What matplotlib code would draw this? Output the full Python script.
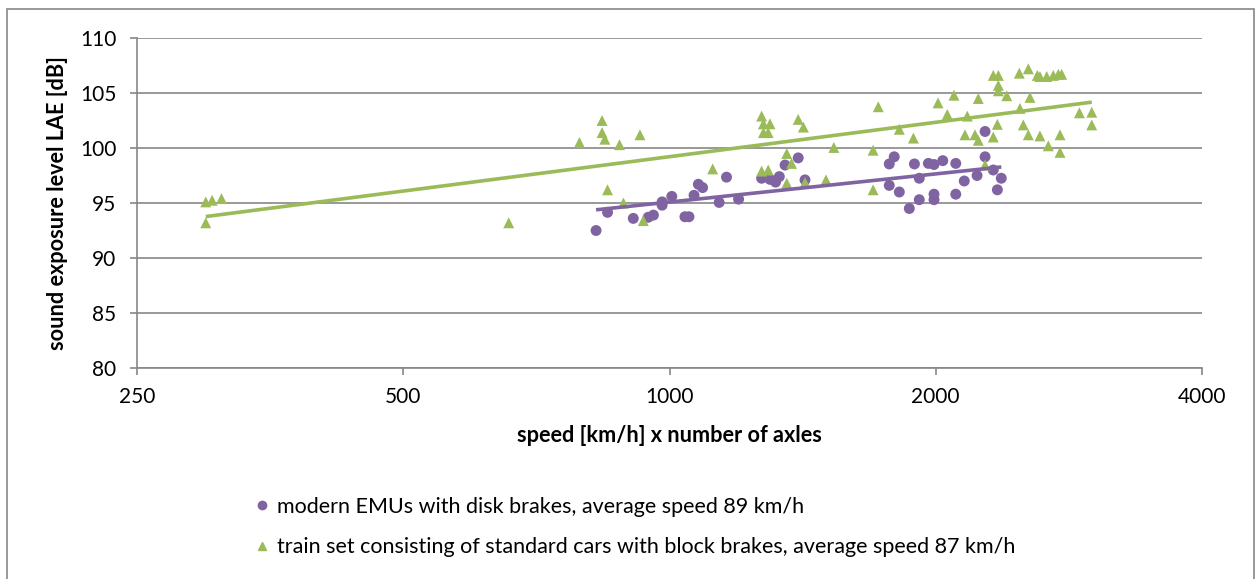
import numpy as np
import matplotlib
matplotlib.use('Agg')
import matplotlib.pyplot as plt
from matplotlib.lines import Line2D
from matplotlib.patches import Rectangle

# modern EMUs with disk brakes
emu_x = [826, 851, 910, 946, 959, 981, 981, 1006, 1041, 1052, 1066, 1078, 1090,
         1138, 1160, 1197, 1271, 1299, 1331, 1318, 1351, 1398, 1423,
         1795, 1772, 1892, 1962, 1991, 2037, 2107, 2274, 2274, 1916, 1772, 1819,
         1867, 1916, 1991, 1991, 2107, 2154, 2227, 2323, 2372, 2348]
emu_y = [92.5, 94.15, 93.6, 93.7, 93.9, 94.8, 95.1, 95.6, 93.75, 93.75, 95.7, 96.7, 96.4,
         95.05, 97.35, 95.35, 97.25, 97.15, 97.4, 96.9, 98.45, 99.1, 97.1,
         99.2, 98.55, 98.55, 98.6, 98.5, 98.85, 98.6, 99.2, 101.5, 97.25, 96.6, 96.0,
         94.5, 95.3, 95.8, 95.3, 95.8, 97.0, 97.5, 98.0, 97.25, 96.2]

# train sets of standard cars with block brakes
blk_x = [299, 299, 304, 311.5, 658, 791, 839, 839, 845, 878, 926, 851, 887, 934,
         1119, 1271, 1277, 1299, 1277, 1293, 1398, 1417, 1534, 1357, 1374, 1271,
         1293, 1357, 1423, 1503, 1699, 1722, 1699, 1819, 1887, 2012, 2061, 2097,
         2171, 2234, 2158, 2215, 2234, 2323, 2348, 2323, 2354, 2354, 2354, 2406,
         2486, 2545, 2605, 2623, 2670, 2716, 2752, 2776, 2556, 2490, 2512, 2545,
         2623, 2681, 2764, 2764, 2907, 3002, 3002, 2274]
blk_y = [93.2, 95.1, 95.25, 95.4, 93.2, 100.5, 102.5, 101.4, 100.8, 100.3, 101.2, 96.2, 95.0, 93.4,
         98.1, 102.9, 102.2, 102.2, 101.4, 101.4, 102.6, 101.9, 100.05, 99.5, 98.6, 97.9,
         98.0, 96.8, 96.85, 97.1, 99.8, 103.75, 96.2, 101.7, 100.9, 104.1, 103.05, 104.8,
         102.9, 104.5, 101.2, 101.2, 100.7, 101.0, 102.15, 106.6, 106.6, 105.7, 105.2, 104.75,
         106.8, 107.2, 106.6, 106.5, 106.5, 106.6, 106.7, 106.7, 104.6, 103.6, 102.1, 101.2,
         101.1, 100.2, 99.6, 101.2, 103.2, 103.25, 102.1, 98.45]

x_ticks = [250, 500, 1000, 2000, 4000]
y_ticks = [80, 85, 90, 95, 100, 105, 110]

labels = ['modern EMUs with disk brakes, average speed 89 km/h',
          'train set consisting of standard cars with block brakes, average speed 87 km/h']

PURPLE = '#8064A2'
GREEN = '#9BBB59'
GRID = '#878787'
FS = 15

plt.rcParams['font.family'] = ['Lato', 'DejaVu Sans']


def trend(x, y):
    # логарифмическая линия тренда, как в Excel
    lx = np.log(np.asarray(x, dtype=float))
    k, b = np.polyfit(lx, y, 1)
    xs = np.geomspace(min(x), max(x), 50)
    return xs, k * np.log(xs) + b


fig = plt.figure(figsize=(12.55, 5.79), dpi=100)
ax = fig.add_axes([137 / 1255, 1 - 368 / 579, (1202 - 137) / 1255, (368 - 38) / 579])

ax.scatter(emu_x, emu_y, s=62, marker='o', color=PURPLE, edgecolors='none', zorder=3)
ax.scatter(blk_x, blk_y, s=62, marker='^', color=GREEN, edgecolors='none', zorder=3)

tx, ty = trend(emu_x, emu_y)
ax.plot(tx, ty, color=PURPLE, lw=2.6, solid_capstyle='butt', zorder=4)
tx, ty = trend(blk_x, blk_y)
ax.plot(tx, ty, color=GREEN, lw=2.6, solid_capstyle='butt', zorder=4)

ax.set_xscale('log', base=2)
ax.set_xlim(250, 4000)
ax.set_ylim(80, 110)
ax.set_xticks(x_ticks)
ax.set_xticklabels([str(v) for v in x_ticks])
ax.minorticks_off()
ax.set_yticks(y_ticks)

ax.grid(axis='y', color=GRID, lw=1.2)
ax.set_axisbelow(True)
for side in ['top', 'right']:
    ax.spines[side].set_visible(False)
for side in ['left', 'bottom']:
    ax.spines[side].set_color(GRID)
    ax.spines[side].set_linewidth(1.2)
ax.tick_params(axis='both', colors=GRID, length=5, width=1.2, labelsize=FS,
               labelcolor='black')
ax.tick_params(axis='x', pad=9)
ax.tick_params(axis='y', pad=10)

fig.text(58 / 1255, 1 - 203 / 579, 'sound exposure level LAE [dB]', rotation=90,
         fontsize=15.6, fontweight='bold', ha='center', va='center')
fig.text(669 / 1255, 1 - 436 / 579, 'speed [km/h] x number of axles',
         fontsize=15.6, fontweight='bold', ha='center', va='center')

handles = [Line2D([], [], ls='none', marker='o', color=PURPLE, markersize=6),
           Line2D([], [], ls='none', marker='^', color=GREEN, markersize=6)]
fig.legend(handles, labels, loc='center left', bbox_to_anchor=(245 / 1255, 1 - 527 / 579),
           frameon=False, fontsize=15.5, handlelength=0.6, handletextpad=0.4,
           labelspacing=0.95, borderpad=0)

fig.add_artist(Rectangle((7 / 1255, -0.05), 1247 / 1255, 1.05 - 9 / 579,
                         transform=fig.transFigure, fill=False, edgecolor=GRID, lw=1.2))

fig.savefig('out.png', dpi=100)
